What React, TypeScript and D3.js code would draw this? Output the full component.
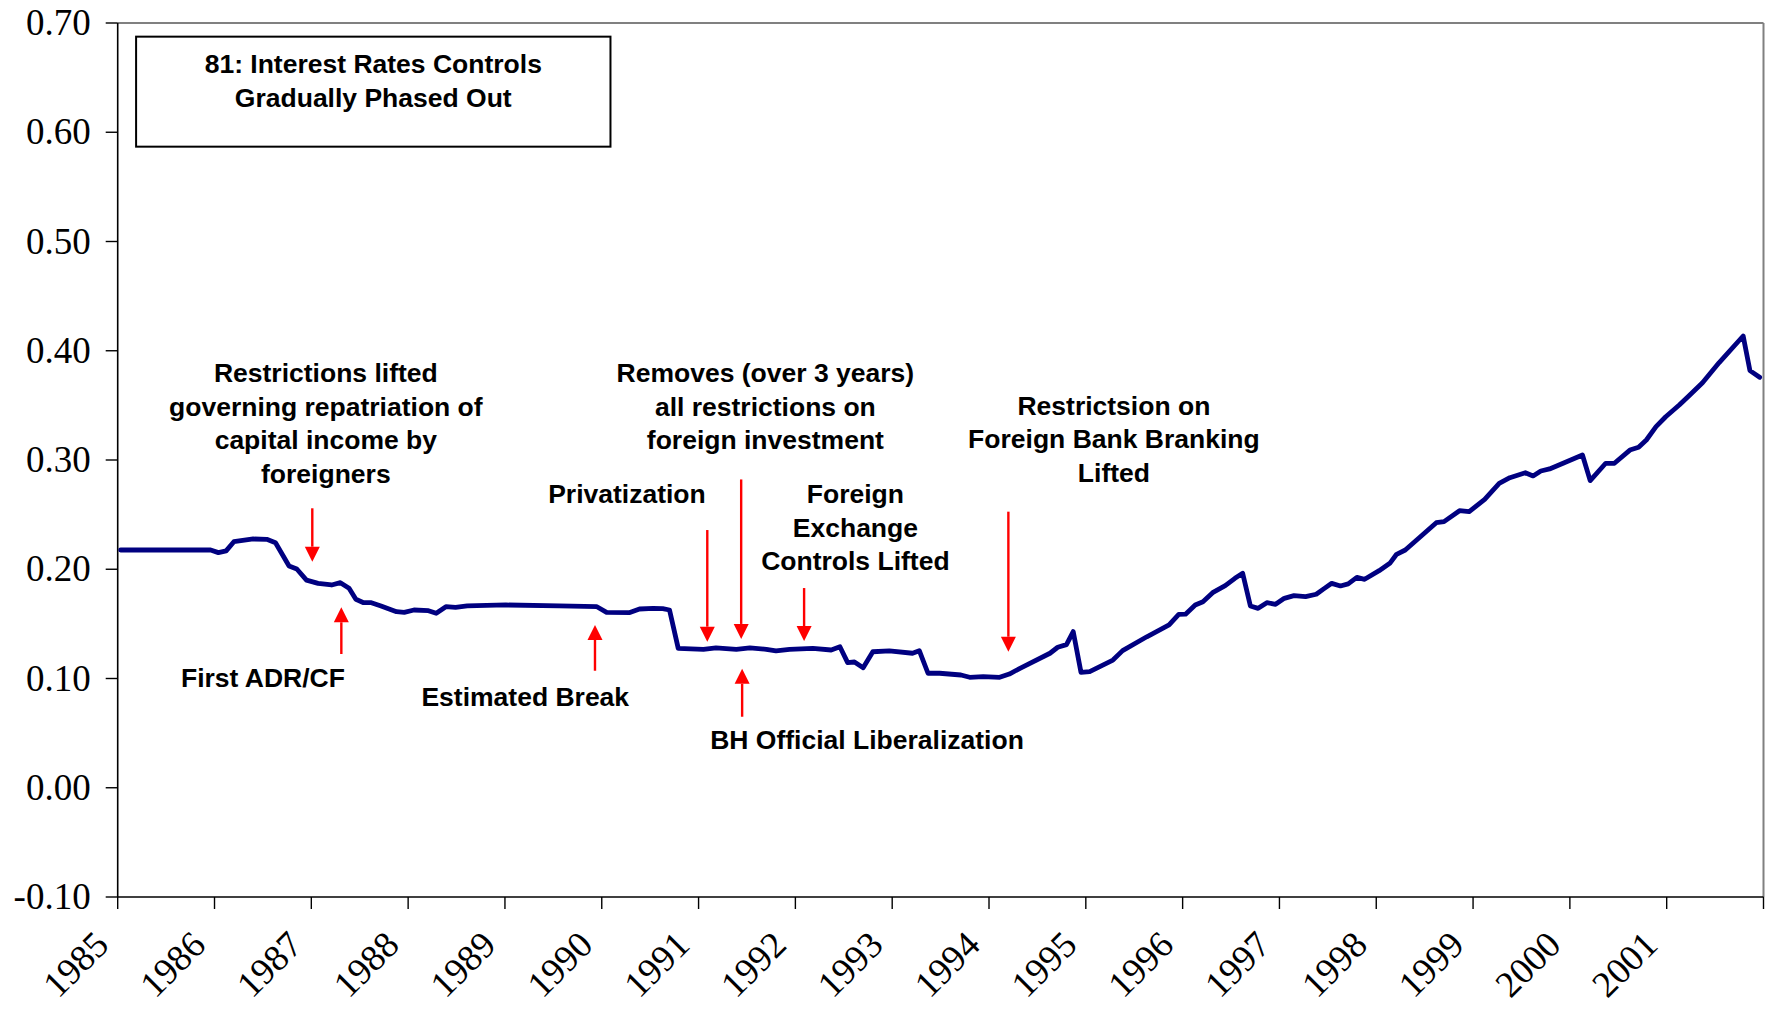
import React from "react";
import * as d3 from "d3";

// ---- data ----
const yearTicks = [1985, 1986, 1987, 1988, 1989, 1990, 1991, 1992, 1993, 1994, 1995, 1996, 1997, 1998, 1999, 2000, 2001, 2002];
const yearLabels = ["1985", "1986", "1987", "1988", "1989", "1990", "1991", "1992", "1993", "1994", "1995", "1996", "1997", "1998", "1999", "2000", "2001"];
const valueTicks = [-0.1, 0, 0.1, 0.2, 0.3, 0.4, 0.5, 0.6, 0.7];

const seriesDates = [
  1985.03, 1985.96, 1986.04, 1986.12, 1986.2, 1986.4, 1986.54, 1986.63, 1986.77, 1986.85,
  1986.95, 1987.07, 1987.21, 1987.3, 1987.39, 1987.46, 1987.54, 1987.62, 1987.72, 1987.88,
  1987.96, 1988.06, 1988.21, 1988.29, 1988.39, 1988.49, 1988.61, 1989.01, 1989.56, 1989.95,
  1990.05, 1990.29, 1990.39, 1990.53, 1990.63, 1990.7, 1990.79, 1991.05, 1991.18, 1991.39,
  1991.53, 1991.7, 1991.8, 1991.94, 1992.18, 1992.37, 1992.46, 1992.54, 1992.61, 1992.7,
  1992.8, 1992.97, 1993.21, 1993.28, 1993.37, 1993.49, 1993.71, 1993.8, 1993.94, 1994.11,
  1994.21, 1994.32, 1994.63, 1994.71, 1994.8, 1994.87, 1994.95, 1995.04, 1995.28, 1995.38,
  1995.63, 1995.86, 1995.96, 1996.03, 1996.13, 1996.21, 1996.31, 1996.44, 1996.54, 1996.62,
  1996.7, 1996.78, 1996.87, 1996.96, 1997.05, 1997.15, 1997.27, 1997.38, 1997.45, 1997.54,
  1997.63, 1997.71, 1997.8, 1997.88, 1998.03, 1998.14, 1998.21, 1998.3, 1998.45, 1998.62,
  1998.7, 1998.86, 1998.96, 1999.12, 1999.27, 1999.38, 1999.54, 1999.62, 1999.7, 1999.79,
  1999.93, 2000.13, 2000.21, 2000.37, 2000.46, 2000.62, 2000.71, 2000.79, 2000.89, 2000.99,
  2001.13, 2001.22, 2001.37, 2001.54, 2001.79, 2001.86, 2001.96,
];
const seriesValues = [
  0.2176, 0.2176, 0.2152, 0.2168, 0.2252, 0.2277, 0.2274, 0.2243, 0.203, 0.2002,
  0.1901, 0.1871, 0.1856, 0.1877, 0.1826, 0.1725, 0.1694, 0.1694, 0.1664, 0.1612,
  0.1606, 0.1627, 0.1621, 0.1597, 0.1657, 0.1651, 0.1664, 0.1673, 0.1664, 0.1657,
  0.1606, 0.1603, 0.1636, 0.1642, 0.1639, 0.1627, 0.1276, 0.1267, 0.1281, 0.1267,
  0.1281, 0.1267, 0.1252, 0.1267, 0.1276, 0.1261, 0.1291, 0.1145, 0.1151, 0.1099,
  0.1245, 0.1252, 0.1231, 0.1255, 0.1048, 0.1048, 0.1032, 0.1011, 0.1017, 0.1011,
  0.1041, 0.1093, 0.1231, 0.1286, 0.131, 0.1429, 0.1057, 0.1063, 0.1169, 0.1255,
  0.1382, 0.149, 0.1587, 0.1589, 0.1673, 0.1703, 0.1786, 0.185, 0.1917, 0.1963,
  0.1664, 0.1642, 0.1694, 0.1679, 0.1734, 0.1758, 0.1749, 0.1771, 0.1816, 0.1871,
  0.1847, 0.1866, 0.1926, 0.1908, 0.1987, 0.2054, 0.2137, 0.2176, 0.2293, 0.2426,
  0.2436, 0.2536, 0.2527, 0.264, 0.2786, 0.2838, 0.2884, 0.2854, 0.2899, 0.2918,
  0.297, 0.3046, 0.2811, 0.297, 0.297, 0.3091, 0.3116, 0.3183, 0.3305, 0.3396,
  0.3503, 0.3579, 0.3707, 0.389, 0.4135, 0.3818, 0.3757,
];

// arrows: x date, from value -> to value (tip)
const arrowDates = [1987.01, 1991.09, 1991.44, 1992.09, 1994.2, 1987.31, 1989.93, 1991.45];
const arrowFrom = [0.2558, 0.2359, 0.2822, 0.1828, 0.2527, 0.1224, 0.1071, 0.065];
const arrowTo = [0.2069, 0.1337, 0.1362, 0.1343, 0.1245, 0.1652, 0.149, 0.1089];

// text annotations: center date, first baseline value, lines
const noteDates = [1987.15, 1991.69, 1995.29, 1990.26, 1992.62, 1986.5, 1989.21, 1992.74];
const noteValues = [0.3712, 0.3712, 0.3412, 0.2602, 0.2602, 0.0918, 0.0752, 0.0355];
const noteLines = [
  ["Restrictions lifted", "governing repatriation of", "capital income by", "foreigners"],
  ["Removes (over 3 years)", "all restrictions on", "foreign investment"],
  ["Restrictsion on", "Foreign Bank Branking", "Lifted"],
  ["Privatization"],
  ["Foreign", "Exchange", "Controls Lifted"],
  ["First ADR/CF"],
  ["Estimated Break"],
  ["BH Official Liberalization"],
];

// box annotation (date/value corners)
const boxDates = [1985.19, 1990.09];
const boxValues = [0.6875, 0.5868];
const boxLines = ["81: Interest Rates Controls", "Gradually Phased Out"];
const boxBaselines = [0.6538, 0.6231];

const W = 1769;
const H = 1010;
const SERIF = '"Liberation Serif", "Times New Roman", Times, serif';
const SANS = '"Liberation Sans", Arial, Helvetica, sans-serif';

const fmt = (v: number) => d3.format(".2f")(v).replace("\u2212", "-");

export default function App() {
  const x = d3.scaleLinear().domain([1985, 2002]).range([117.7, 1763.5]);
  const y = d3.scaleLinear().domain([-0.1, 0.7]).range([897, 23]);

  const pts: [number, number][] = seriesDates.map((d, i) => [d, seriesValues[i]]);
  const line = d3
    .line<[number, number]>()
    .x((d) => x(d[0]))
    .y((d) => y(d[1]));

  const x0 = x.range()[0];
  const x1 = x.range()[1];
  const yTop = y.range()[1];
  const yBot = y.range()[0];

  const lineH = 33.5;
  const fs = 26.5;
  const head = 15;

  return (
    <svg
      width={W}
      height={H}
      style={{ position: "absolute", left: 0, top: 0, display: "block", background: "#fff" }}
    >
      <rect x={0} y={0} width={W} height={H} fill="#fff" />
      {/* frame top/right */}
      <line x1={x0} y1={yTop} x2={x1} y2={yTop} stroke="#808080" strokeWidth={2} />
      <line x1={x1} y1={yTop} x2={x1} y2={yBot} stroke="#808080" strokeWidth={2} />

      {/* y axis */}
      <line x1={x0} y1={yTop} x2={x0} y2={yBot} stroke="#000" strokeWidth={1.6} />
      {valueTicks.map((v) => (
        <g key={"yt" + v}>
          <line x1={x0 - 12} x2={x0} y1={y(v)} y2={y(v)} stroke="#000" strokeWidth={1.4} />
          <text
            x={x0 - 27}
            y={y(v) + 12}
            textAnchor="end"
            fontFamily={SERIF}
            fontSize={37}
            fill="#000"
          >
            {fmt(v)}
          </text>
        </g>
      ))}

      {/* x axis */}
      <line x1={x0} y1={yBot} x2={x1} y2={yBot} stroke="#000" strokeWidth={1.6} />
      {yearTicks.map((t) => (
        <line key={"xt" + t} x1={x(t)} x2={x(t)} y1={yBot} y2={yBot + 12} stroke="#000" strokeWidth={1.4} />
      ))}
      {yearLabels.map((lab, i) => {
        const tx = x(yearTicks[i]) - 7;
        const ty = 947;
        return (
          <text
            key={"xl" + lab}
            x={tx}
            y={ty}
            textAnchor="end"
            fontFamily={SERIF}
            fontSize={37}
            fill="#000"
            transform={`rotate(-45 ${tx} ${ty})`}
          >
            {lab}
          </text>
        );
      })}

      {/* box annotation */}
      <rect
        x={x(boxDates[0])}
        y={y(boxValues[0])}
        width={x(boxDates[1]) - x(boxDates[0])}
        height={y(boxValues[1]) - y(boxValues[0])}
        fill="#fff"
        stroke="#000"
        strokeWidth={2}
      />
      {boxLines.map((t, i) => (
        <text
          key={"bx" + i}
          x={(x(boxDates[0]) + x(boxDates[1])) / 2}
          y={y(boxBaselines[i])}
          textAnchor="middle"
          fontFamily={SANS}
          fontWeight="bold"
          fontSize={fs}
          fill="#000"
        >
          {t}
        </text>
      ))}

      {/* series */}
      <path
        d={line(pts) || ""}
        fill="none"
        stroke="#000080"
        strokeWidth={4.8}
        strokeLinejoin="round"
        strokeLinecap="round"
      />

      {/* arrows */}
      {arrowDates.map((d, i) => {
        const ax = x(d);
        const ya = y(arrowFrom[i]);
        const yb = y(arrowTo[i]);
        const dir = yb > ya ? 1 : -1;
        const baseY = yb - dir * head;
        return (
          <g key={"ar" + i}>
            <line x1={ax} x2={ax} y1={ya} y2={baseY} stroke="#ff0000" strokeWidth={2.4} />
            <path
              d={`M${ax - head / 2},${baseY} L${ax + head / 2},${baseY} L${ax},${yb} Z`}
              fill="#ff0000"
            />
          </g>
        );
      })}

      {/* text notes */}
      {noteDates.map((d, i) => (
        <text
          key={"nt" + i}
          x={x(d)}
          y={y(noteValues[i])}
          textAnchor="middle"
          fontFamily={SANS}
          fontWeight="bold"
          fontSize={fs}
          fill="#000"
        >
          {noteLines[i].map((ln, j) => (
            <tspan key={j} x={x(d)} dy={j === 0 ? 0 : lineH}>
              {ln}
            </tspan>
          ))}
        </text>
      ))}
    </svg>
  );
}
